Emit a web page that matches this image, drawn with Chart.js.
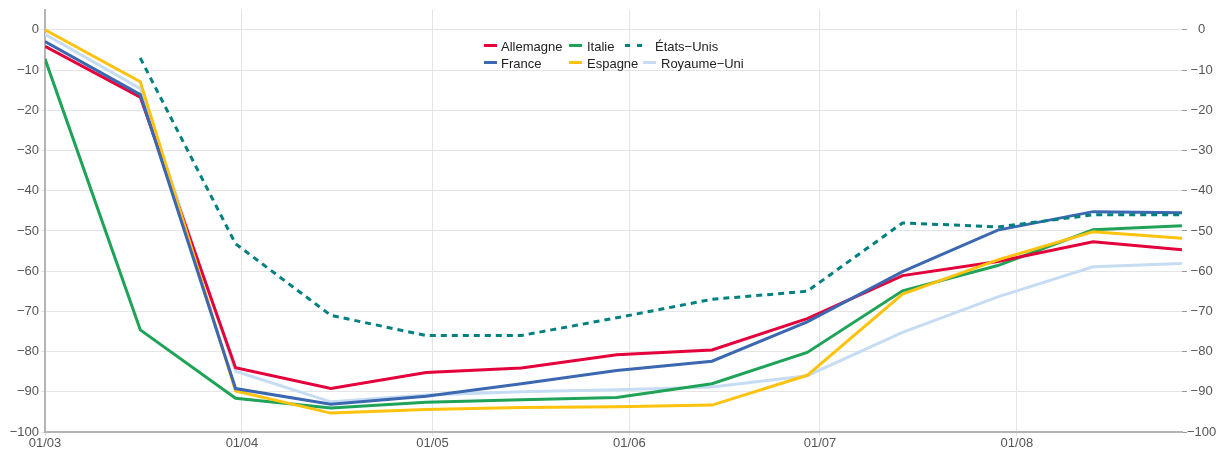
<!DOCTYPE html>
<html><head><meta charset="utf-8">
<script src="https://cdn.jsdelivr.net/npm/chart.js@4.4.1/dist/chart.umd.min.js"></script>
<style>
html,body{margin:0;padding:0;background:#fff;}
#wrap{position:relative;width:1222px;height:450px;overflow:hidden;}
canvas{position:absolute;left:0;top:0;}
#legend{position:absolute;left:0;top:0;width:1222px;height:450px;font-family:'Liberation Sans',Arial,sans-serif;font-size:13px;color:#222;pointer-events:none;}
.lt{position:absolute;white-space:nowrap;line-height:15px;}
.lm{position:absolute;height:3px;}
</style></head><body>
<div id="wrap"><canvas id="c" width="1222" height="450"></canvas><div id="legend"></div></div>
<script>
// ---- data ----
const days = [0, 15, 30, 45, 60, 75, 90, 105, 120, 135, 150, 165, 179]; // days since 01/03
const monthTicks = [0, 31, 61, 92, 122, 153];
const monthLabels = ['01/03', '01/04', '01/05', '01/06', '01/07', '01/08'];
const yTicks = [0, -10, -20, -30, -40, -50, -60, -70, -80, -90, -100];
const seriesNames = ['Allemagne', 'France', 'Italie', 'Espagne', 'États−Unis', 'Royaume−Uni'];
const allemagne = [-4.1, -16.7, -84.0, -89.2, -85.2, -84.1, -80.8, -79.6, -71.8, -61.1, -57.6, -52.7, -54.7];
const france    = [-2.9, -16.1, -89.2, -93.1, -91.1, -88.0, -84.7, -82.4, -72.6, -60.1, -49.8, -45.2, -45.5];
const italie    = [-7.2, -74.6, -91.6, -94.0, -92.6, -92.0, -91.4, -88.0, -80.2, -64.9, -58.6, -49.7, -48.7];
const espagne   = [0.0, -12.9, -89.8, -95.3, -94.4, -93.9, -93.7, -93.3, -85.9, -65.7, -57.2, -50.2, -51.8];
const etatsUnis = [null, -7.0, -53.2, -71.0, -76.0, -76.0, -71.6, -67.0, -65.0, -48.0, -49.0, -46.0, -46.0];
const royaumeUni= [-1.1, -14.6, -84.9, -92.5, -90.8, -90.0, -89.5, -88.8, -86.0, -75.2, -66.4, -58.9, -58.1];

// ---- styles ----
const colors = ['#e4003b', '#3b68b1', '#1ea358', '#ffc20e', '#00807f', '#c6dcf2'];
const dashes = [[], [], [], [], [6, 5], []];
const values = [allemagne, france, italie, espagne, etatsUnis, royaumeUni];
const drawOrder = [3, 1, 4, 2, 0, 5];

const fmt = v => (v < 0 ? '\u2212' + Math.abs(v) : String(v));
const FONT = "'Liberation Sans', Arial, sans-serif";
Chart.defaults.font.family = FONT;
Chart.defaults.font.size = 13;

const datasets = seriesNames.map((n, i) => ({
  label: n,
  data: days.map((d, j) => ({x: d, y: values[i][j]})),
  borderColor: colors[i],
  backgroundColor: colors[i],
  borderWidth: 3,
  borderDash: dashes[i],
  pointRadius: 0,
  tension: 0,
  fill: false,
  spanGaps: false,
  order: drawOrder[i]
}));

new Chart(document.getElementById('c'), {
  type: 'line',
  data: {datasets},
  options: {
    responsive: false,
    animation: false,
    devicePixelRatio: 1,
    layout: {padding: {top: 8, left: 0, right: 0, bottom: 0}},
    plugins: {legend: {display: false}, tooltip: {enabled: false}, title: {display: false}},
    scales: {
      x: {
        type: 'linear', min: 0, max: 179,
        afterBuildTicks: s => { s.ticks = monthTicks.map(v => ({value: v})); },
        afterFit: s => { s.height = 18; },
        grid: {color: '#e5e5e5', lineWidth: 1, tickLength: 4},
        border: {color: '#b4b4b4', width: 2},
        ticks: {color: '#555', padding: 0, maxRotation: 0, autoSkip: false,
          callback: v => monthLabels[monthTicks.indexOf(v)] ?? ''}
      },
      y: {
        position: 'left', min: -100, max: 5,
        afterBuildTicks: s => { s.ticks = yTicks.map(v => ({value: v})); },
        afterFit: s => { s.width = 45; },
        grid: {color: '#e5e5e5', lineWidth: 1, tickLength: 4},
        border: {color: '#b4b4b4', width: 2},
        ticks: {color: '#555', padding: 2, callback: v => fmt(v)}
      },
      y2: {
        position: 'right', min: -100, max: 5,
        afterBuildTicks: s => { s.ticks = yTicks.map(v => ({value: v})); },
        afterFit: s => { s.width = 40; },
        grid: {drawOnChartArea: false, color: '#999', tickLength: 5},
        border: {display: false},
        ticks: {color: '#555', padding: 0, crossAlign: 'center', callback: v => fmt(v)}
      }
    }
  }
});

// ---- legend (HTML) ----
const legendPos = [
  {m: 484, t: 501, row: 0}, // Allemagne
  {m: 484, t: 501, row: 1}, // France
  {m: 569, t: 587, row: 0}, // Italie
  {m: 569, t: 587, row: 1}, // Espagne
  {m: 625, t: 655, row: 0}, // États-Unis
  {m: 643, t: 661, row: 1}  // Royaume-Uni
];
const rowMarkY = [44.2, 61];
const rowTextY = [39, 55.5];
const lg = document.getElementById('legend');
seriesNames.forEach((n, i) => {
  const p = legendPos[i];
  if (dashes[i].length) {
    [0, 12].forEach(off => {
      const d = document.createElement('div');
      d.className = 'lm';
      d.style.cssText = `left:${p.m + off}px;top:${rowMarkY[p.row]}px;width:5px;background:${colors[i]}`;
      lg.appendChild(d);
    });
  } else {
    const d = document.createElement('div');
    d.className = 'lm';
    d.style.cssText = `left:${p.m}px;top:${rowMarkY[p.row]}px;width:13px;background:${colors[i]}`;
    lg.appendChild(d);
  }
  const t = document.createElement('div');
  t.className = 'lt';
  t.style.cssText = `left:${p.t}px;top:${rowTextY[p.row]}px`;
  t.textContent = n;
  lg.appendChild(t);
});
</script>
</body></html>
